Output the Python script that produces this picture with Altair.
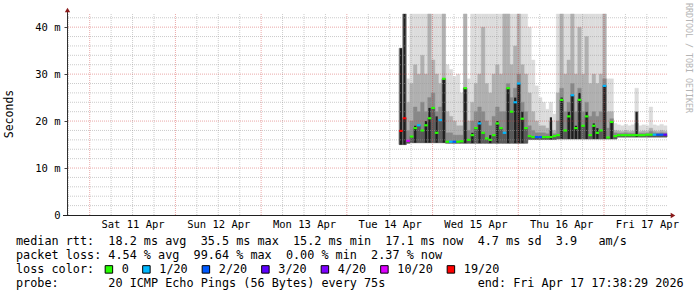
import json
import altair as alt
import pandas as pd

# ---------------- data ----------------
# time axis: hours after the graph start, Fri Apr 10 17:38:29 (7-day window)
hours = list(range(93, 168))  # start hour of each 1-hour bin with data

smoke_lo = [15.0, 15.0, 15.3, 15.4, 15.4, 15.4, 15.4, 15.4, 15.4, 15.4, 15.4, 15.4, 15.4,
            15.3, 15.3, 15.3, 15.3, 15.3, 15.3, 15.3, 15.3, 15.3, 15.3, 15.3, 15.3, 15.3,
            15.3, 15.3, 15.3, 15.3, 15.3, 15.3, 15.3, 15.3, 15.3, 15.3,
            16.1, 16.1, 16.1, 16.1, 16.1, 16.1, 16.1, 16.1,
            16.2, 16.2, 16.2, 16.2, 16.2, 16.2, 16.2, 16.2, 16.2, 16.2, 16.2, 16.2, 16.2,
            16.2, 16.2, 16.2, 16.2,
            16.6, 16.6, 16.6, 16.6, 16.6, 16.6, 16.6, 16.6, 16.6, 16.6, 16.6, 16.6, 16.6, 16.6]

smoke_hi = [35.5, 42.8, 29.0, 42.8, 42.8, 42.8, 42.8, 42.8, 42.8, 42.8, 42.8, 42.8, 42.8,
            32.0, 31.0, 29.5, 30.0, 26.0, 42.8, 29.0,
            42.8, 42.8, 42.8, 42.8, 42.8, 42.8, 42.8, 42.8, 42.8, 42.8, 42.8, 42.8, 42.8,
            42.8, 42.8, 42.8,
            40.0, 33.0, 27.5, 25.0, 24.0, 22.5, 24.0, 21.5,
            42.8, 42.8, 42.8, 42.8, 42.8, 42.8, 42.8, 42.8, 42.8, 42.8, 42.8, 42.8, 42.8, 42.8,
            29.0, 29.0, 19.5,
            19.2, 19.0, 19.3, 19.0, 19.2, 27.0, 19.0, 19.2, 19.0, 23.0, 19.2, 19.0, 19.3, 19.0]

smoke_mid = [35.5, 42.8, 24.0, 28.0, 32.0, 30.0, 34.0, 30.0, 42.8, 33.0, 30.0, 28.0, 42.8,
             22.0, 21.0, 20.0, 19.0, 19.0, 42.8, 20.0,
             24.0, 28.0, 30.0, 40.0, 28.0, 26.0, 30.0, 32.0, 30.0, 42.8, 42.8, 32.0, 36.0,
             42.8, 32.0, 30.0,
             26.0, 22.0, 20.0, 19.0, 19.0, 18.5, 20.0, 18.0,
             26.0, 42.8, 30.0, 33.0, 42.8, 30.0, 40.0, 30.0, 38.0, 28.0, 30.0, 28.0, 30.0, 42.8,
             22.0, 22.0, 18.0,
             17.9, 17.8, 18.0, 17.8, 17.9, 22.0, 17.8, 17.9, 17.8, 18.5, 17.9, 17.8, 18.0, 17.8]

smoke_q = [35.5, 42.8, 18.0, 20.0, 23.0, 22.0, 24.0, 22.0, 25.0, 26.0, 22.0, 23.0, 29.0,
           17.5, 17.5, 17.0, 17.0, 17.0, 27.0, 18.0,
           20.0, 22.0, 23.0, 22.0, 20.0, 19.0, 21.0, 23.0, 22.0, 22.0, 28.0, 25.0, 27.0,
           30.0, 24.0, 22.0,
           19.0, 18.0, 17.5, 17.5, 17.5, 17.3, 18.0, 17.3,
           20.0, 27.0, 22.0, 24.0, 28.0, 22.0, 27.0, 22.0, 24.0, 21.0, 22.0, 21.0, 22.0, 29.0,
           18.5, 20.5, 17.5,
           17.4, 17.4, 17.5, 17.4, 17.4, 19.5, 17.4, 17.4, 17.4, 17.8, 17.5, 17.4, 17.5, 17.4]

dark_hi = [35.5, 42.8, 0, 0, 19.0, 0, 0, 20.0, 22.8, 0, 21.0, 0, 29.0,
           0, 0, 0, 0, 0, 27.0, 0,
           17.5, 0, 20.0, 0, 0, 17.0, 0, 20.0, 0, 0, 27.0, 0, 25.0, 28.0, 22.0, 0,
           0, 0, 0, 0, 0, 0, 20.8, 0,
           0, 25.0, 0, 22.0, 25.5, 19.0, 26.0, 0, 22.0, 0, 19.5, 18.5, 0, 27.5,
           0, 19.8, 0,
           0, 0, 0, 0, 0, 22.0, 0, 0, 0, 0, 0, 0, 0, 0]

median = [17.9, 20.6, 15.8, 16.7, 18.5, 19.1, 18.0, 19.1, 20.6, 22.8, 17.5, 20.2, 29.0,
          15.6, 15.6, 15.6, 15.6, 15.7, 27.0, 16.0,
          17.0, 18.5, 19.5, 17.5, 16.3, 16.0, 17.0, 19.5, 18.5, 17.5, 27.0, 22.0, 24.0,
          28.0, 20.5, 18.5,
          16.8, 16.6, 16.6, 16.6, 16.6, 16.6, 16.6, 16.8,
          17.0, 24.5, 18.0, 21.0, 25.5, 18.5, 24.5, 19.0, 21.0, 17.0, 19.0, 17.5, 18.0, 27.5,
          16.5, 19.8, 16.8,
          17.0, 17.0, 17.0, 17.0, 17.0, 17.0, 17.0, 17.0, 17.1, 17.1, 17.1, 17.1, 17.1, 17.1]

loss = ["19/20", "19/20", "10/20", "0", "0", "1/20", "0", "0", "0", "0", "0", "1/20", "0",
        "0", "1/20", "2/20", "0", "0", "0", "0",
        "0", "0", "1/20", "0", "0", "0", "0", "0", "0", "1/20", "0", "0", "1/20",
        "1/20", "0", "0",
        "0", "0", "2/20", "2/20", "0", "0", "0", "0",
        "0", "0", "0", "0", "1/20", "0", "0", "0", "0", "0", "0", "0", "0", "1/20",
        "0", "0", "0",
        "0", "0", "0", "0", "0", "0", "0", "0", "0", "0", "1/20", "2/20", "2/20", "3/20"]

loss_levels = ["0", "1/20", "2/20", "3/20", "4/20", "10/20", "19/20"]
loss_colors = ["#26ff00", "#00b8ff", "#0059ff", "#5e00ff", "#7e00ff", "#dd00ff", "#ff0000"]

day_labels = ["Sat 11 Apr", "Sun 12 Apr", "Mon 13 Apr", "Tue 14 Apr",
              "Wed 15 Apr", "Thu 16 Apr", "Fri 17 Apr"]
first_midnight = 6.3586          # hours from 17:38:29 to 00:00
span_hours = 168
y_top = 42.8
y_labels_at = [0, 10, 20, 30, 40]

row1 = "median rtt:  18.2 ms avg  35.5 ms max  15.2 ms min  17.1 ms now  4.7 ms sd  3.9   am/s"
row2 = "packet loss: 4.54 % avg  99.64 % max  0.00 % min  2.37 % now"
row3 = "loss color:"
row4 = "probe:       20 ICMP Echo Pings (56 Bytes) every 75s             end: Fri Apr 17 17:38:29 2026"
y_title = "Seconds"
watermark = "RRDTOOL / TOBI OETIKER"

# ---------------- tables ----------------
df = pd.DataFrame({"h": hours, "lo": smoke_lo, "hi": smoke_hi, "mid": smoke_mid,
                   "q": smoke_q, "dark": dark_hi, "med": median, "loss": loss})

noon_vals = [first_midnight + 12 + 24 * k for k in range(7)]
midnights = [first_midnight + 24 * k for k in range(7)]
six_h = [first_midnight - 6 + 6 * k for k in range(29)]
six_h = [v for v in six_h if 0 < v < span_hours and all(abs(v - m) > 0.1 for m in midnights)]
y_major = [10, 20, 30, 40]
y_minor = [v for v in range(2, 43, 2) if v % 10 != 0]

MONO = "DejaVu Sans Mono"
xscale = alt.Scale(domain=[0, span_hours], nice=False, zero=False)
yscale = alt.Scale(domain=[0, y_top], nice=False, zero=True)

label_expr_x = (json.dumps(day_labels) +
                "[round((datum.value - %f) / 24)]" % (first_midnight + 12))

LINE_HALF = 0.23  # half thickness of the median line, in ms (about 2 px)


def nb(s):
    return s.replace(" ", "\u00a0")


def X(field):
    return alt.X(field, scale=xscale, title=None)


def Y(field):
    return alt.Y(field, scale=yscale, title=None)


base = alt.Chart(df).transform_calculate(h2="datum.h + 1", hc="datum.h + 0.5")

light = base.mark_rect(color="#dcdcdc", stroke="#dcdcdc", strokeWidth=0.4).encode(
    x=alt.X("h:Q", scale=xscale, title=None,
            axis=alt.Axis(values=noon_vals, labelExpr=label_expr_x, ticks=False,
                          domain=False, grid=False, labelFont=MONO, labelFontSize=10.5,
                          labelColor="#000", labelPadding=4, labelAngle=0)),
    x2="h2:Q",
    y=alt.Y("lo:Q", scale=yscale, title=None,
            axis=alt.Axis(values=y_labels_at,
                          labelExpr="datum.value == 0 ? '0' : datum.value + ' m'",
                          domain=False, grid=False, tickSize=3, tickColor="#444",
                          labelFont=MONO, labelFontSize=10.5, labelColor="#000",
                          labelPadding=4)),
    y2="hi:Q",
)

midl = base.mark_rect(color="#b0b0b0", stroke="#b0b0b0", strokeWidth=0.4).encode(
    x=X("h:Q"), x2="h2:Q", y=Y("lo:Q"), y2="mid:Q")

qband = base.mark_rect(color="#888888", stroke="#888888", strokeWidth=0.4).encode(
    x=X("h:Q"), x2="h2:Q", y=Y("lo:Q"), y2="q:Q")

low = base.mark_rect(color="#5a5a5a", stroke="#5a5a5a", strokeWidth=0.4).encode(
    x=X("h:Q"), x2="h2:Q", y=Y("lo:Q"), y2="med:Q")

dark = base.transform_filter("datum.dark > 0").mark_rule(
    color="#1e1e1e", strokeWidth=2.2).encode(
    x=X("hc:Q"), y=Y("lo:Q"), y2="dark:Q")

med = base.transform_calculate(
    m1="datum.med - %f" % LINE_HALF, m2="datum.med + %f" % LINE_HALF
).mark_rect().encode(
    x=X("h:Q"), x2="h2:Q",
    y=Y("m1:Q"), y2="m2:Q",
    color=alt.Color("loss:N",
                    scale=alt.Scale(domain=loss_levels, range=loss_colors),
                    legend=alt.Legend(orient="none", legendX=36, legendY=249.5,
                                      direction="horizontal", columns=7, title=None,
                                      gridAlign="none",
                                      symbolType="square", symbolSize=56,
                                      symbolStrokeColor="#000", symbolStrokeWidth=1,
                                      symbolOpacity=1, labelFont=MONO,
                                      labelFontSize=11.8, labelColor="#000",
                                      labelOffset=7, columnPadding=11.5, padding=0)))

grid_y_minor = alt.Chart(pd.DataFrame({"v": y_minor})).mark_rule(
    color="#9a9a9a", opacity=0.5, strokeDash=[1, 1], strokeWidth=1).encode(y=Y("v:Q"))
grid_x_minor = alt.Chart(pd.DataFrame({"v": six_h})).mark_rule(
    color="#9a9a9a", opacity=0.5, strokeDash=[1, 1], strokeWidth=1).encode(x=X("v:Q"))
grid_y_major = alt.Chart(pd.DataFrame({"v": y_major})).mark_rule(
    color="#d04040", opacity=0.45, strokeDash=[1, 1], strokeWidth=1).encode(y=Y("v:Q"))
grid_x_major = alt.Chart(pd.DataFrame({"v": midnights})).mark_rule(
    color="#d04040", opacity=0.45, strokeDash=[1, 1], strokeWidth=1).encode(x=X("v:Q"))

one = pd.DataFrame({"k": [0]})
y_axis_line = alt.Chart(one).mark_rule(color="#303030", strokeWidth=1).encode(
    x=alt.value(0.5), y=alt.value(201), y2=alt.value(-2))
x_axis_line = alt.Chart(one).mark_rule(color="#202020", strokeWidth=1).encode(
    x=alt.value(-4), x2=alt.value(605), y=alt.value(201.5))
arrow_up = alt.Chart(one).mark_point(shape="triangle-up", filled=True, color="#8b1a1a",
                                     size=28, opacity=1).encode(
    x=alt.value(0.5), y=alt.value(-4))
arrow_right = alt.Chart(one).mark_point(shape="triangle-right", filled=True, color="#8b1a1a",
                                        size=28, opacity=1).encode(
    x=alt.value(606), y=alt.value(201.5))


def text_layer(s, x, y, size=11.8, color="#000", angle=0, align="left",
               baseline="alphabetic"):
    return alt.Chart(pd.DataFrame({"t": [nb(s)]})).mark_text(
        font=MONO, fontSize=size, color=color, angle=angle, align=align,
        baseline=baseline).encode(text="t:N", x=alt.value(x), y=alt.value(y))


texts = [
    text_layer(row1, -51, 231),
    text_layer(row2, -51, 245),
    text_layer(row3, -51, 259),
    text_layer(row4, -51, 273),
    text_layer(y_title, -57, 100, size=11.5, angle=270, align="center",
               baseline="middle"),
    text_layer(watermark, 621, 44, size=8.3, color="#b4b4b4", angle=90,
               align="center", baseline="middle"),
]

chart = alt.layer(
    light, midl, qband, low, dark,
    grid_y_minor, grid_x_minor, grid_y_major, grid_x_major,
    med, y_axis_line, x_axis_line, arrow_up, arrow_right, *texts
).properties(
    width=600, height=201,
    autosize=alt.AutoSizeParams(type="none"),
    padding={"left": 67, "top": 14, "right": 30, "bottom": 82},
    background="#ffffff",
).configure_view(stroke=None)

chart.save("out.html", embed_options={"renderer": "svg", "actions": False})
